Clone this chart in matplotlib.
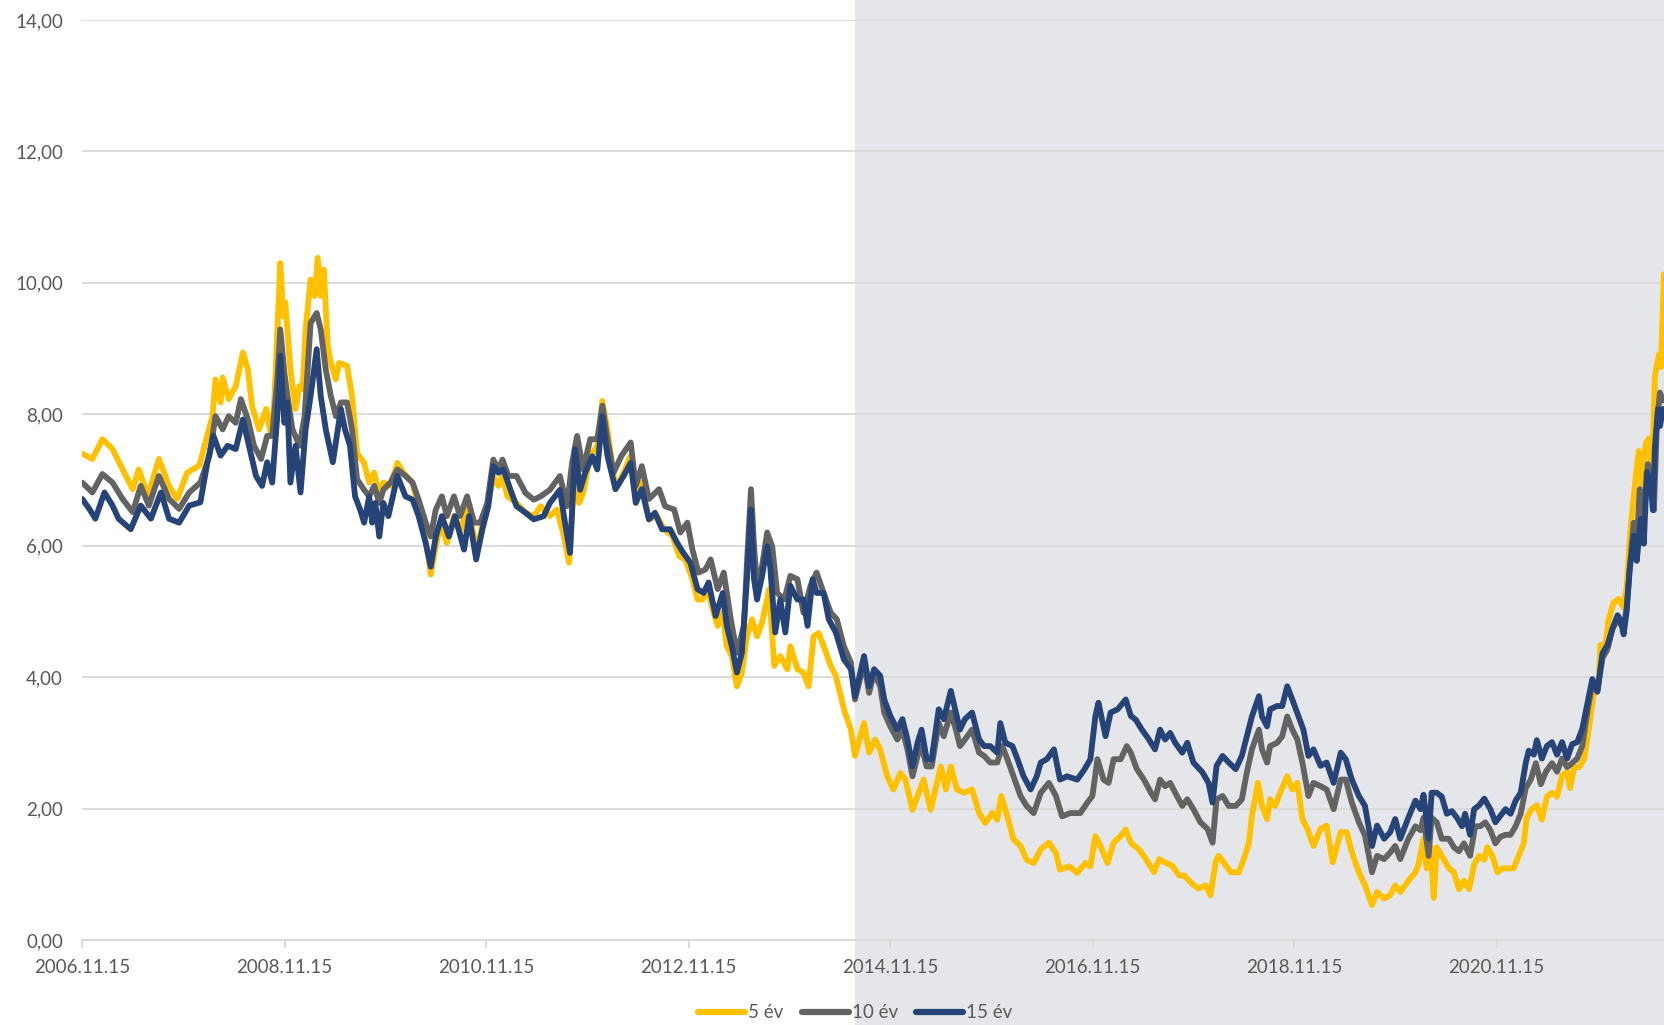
import pandas as pd
import matplotlib.pyplot as plt
import matplotlib.dates as mdates
import matplotlib.transforms as mtransforms
from matplotlib.patches import Rectangle
from matplotlib.lines import Line2D
from matplotlib.ticker import FuncFormatter

# --- DATA (decimal year, yield %) ---
yield_5y = [
    (2006.87, 7.40), (2006.97, 7.32), (2007.07, 7.62), (2007.17, 7.47), (2007.27, 7.16), (2007.37, 6.86),
    (2007.43, 7.16), (2007.52, 6.76), (2007.63, 7.32), (2007.73, 6.91), (2007.81, 6.71), (2007.91, 7.11),
    (2008.03, 7.22), (2008.09, 7.57), (2008.16, 7.97), (2008.19, 8.53), (2008.24, 8.18), (2008.26, 8.56),
    (2008.32, 8.23), (2008.39, 8.43), (2008.46, 8.94), (2008.51, 8.68), (2008.55, 8.13), (2008.62, 7.77),
    (2008.69, 8.08), (2008.74, 7.67), (2008.77, 8.18), (2008.80, 9.24), (2008.83, 10.30), (2008.86, 9.49),
    (2008.88, 9.70), (2008.93, 8.68), (2008.98, 8.08), (2009.02, 8.43), (2009.05, 8.38), (2009.08, 9.29),
    (2009.13, 10.05), (2009.17, 9.80), (2009.20, 10.38), (2009.23, 9.80), (2009.26, 10.20), (2009.30, 9.04),
    (2009.33, 8.78), (2009.38, 8.53), (2009.41, 8.78), (2009.49, 8.74), (2009.54, 8.28), (2009.59, 7.41),
    (2009.66, 7.26), (2009.71, 6.96), (2009.76, 7.11), (2009.81, 6.75), (2009.85, 6.96), (2009.92, 6.91),
    (2009.99, 7.26), (2010.05, 7.11), (2010.14, 6.96), (2010.20, 6.55), (2010.25, 6.24), (2010.30, 5.79),
    (2010.32, 5.56), (2010.37, 5.99), (2010.42, 6.35), (2010.48, 6.04), (2010.55, 6.45), (2010.61, 6.19),
    (2010.68, 6.60), (2010.75, 6.14), (2010.80, 6.04), (2010.84, 6.45), (2010.89, 6.65), (2010.94, 7.06),
    (2010.99, 6.91), (2011.03, 7.06), (2011.08, 6.75), (2011.17, 6.65), (2011.26, 6.50), (2011.34, 6.45),
    (2011.41, 6.60), (2011.50, 6.45), (2011.57, 6.55), (2011.64, 6.14), (2011.69, 5.74), (2011.74, 6.96),
    (2011.79, 6.65), (2011.83, 6.80), (2011.90, 7.36), (2011.97, 7.52), (2012.02, 8.20), (2012.07, 7.77),
    (2012.15, 6.86), (2012.23, 7.11), (2012.30, 7.37), (2012.35, 6.76), (2012.41, 6.96), (2012.48, 6.40),
    (2012.56, 6.45), (2012.63, 6.25), (2012.71, 6.15), (2012.78, 5.84), (2012.84, 5.79), (2012.91, 5.49),
    (2012.96, 5.18), (2013.01, 5.18), (2013.06, 5.34), (2013.11, 5.03), (2013.16, 4.78), (2013.21, 4.98),
    (2013.25, 4.47), (2013.30, 4.32), (2013.35, 3.86), (2013.40, 4.07), (2013.45, 4.62), (2013.50, 4.88),
    (2013.55, 4.62), (2013.60, 4.83), (2013.67, 5.34), (2013.72, 4.17), (2013.78, 4.32), (2013.85, 4.12),
    (2013.88, 4.47), (2013.95, 4.12), (2014.01, 4.07), (2014.06, 3.86), (2014.11, 4.62), (2014.16, 4.67),
    (2014.21, 4.47), (2014.28, 4.17), (2014.33, 4.02), (2014.38, 3.71), (2014.41, 3.51), (2014.48, 3.20),
    (2014.52, 2.80), (2014.61, 3.30), (2014.66, 2.85), (2014.72, 3.05), (2014.77, 2.90), (2014.84, 2.49),
    (2014.90, 2.29), (2014.97, 2.54), (2015.02, 2.44), (2015.09, 1.98), (2015.14, 2.19), (2015.20, 2.44),
    (2015.27, 1.98), (2015.37, 2.64), (2015.42, 2.29), (2015.47, 2.64), (2015.53, 2.29), (2015.60, 2.24),
    (2015.68, 2.29), (2015.75, 1.93), (2015.81, 1.78), (2015.88, 1.93), (2015.93, 1.83), (2015.97, 2.19),
    (2016.03, 1.88), (2016.09, 1.53), (2016.16, 1.43), (2016.22, 1.22), (2016.29, 1.17), (2016.36, 1.38),
    (2016.44, 1.48), (2016.51, 1.32), (2016.55, 1.07), (2016.64, 1.12), (2016.72, 1.02), (2016.80, 1.17),
    (2016.85, 1.12), (2016.90, 1.58), (2016.95, 1.43), (2017.02, 1.17), (2017.08, 1.48), (2017.15, 1.58),
    (2017.20, 1.68), (2017.25, 1.48), (2017.33, 1.38), (2017.40, 1.23), (2017.48, 1.03), (2017.53, 1.23),
    (2017.59, 1.18), (2017.66, 1.13), (2017.73, 0.98), (2017.78, 0.98), (2017.84, 0.88), (2017.92, 0.78),
    (2017.99, 0.83), (2018.04, 0.68), (2018.09, 1.18), (2018.12, 1.28), (2018.17, 1.18), (2018.24, 1.03),
    (2018.32, 1.03), (2018.37, 1.23), (2018.42, 1.48), (2018.45, 1.89), (2018.51, 2.39), (2018.55, 2.04),
    (2018.60, 1.84), (2018.63, 2.14), (2018.68, 2.04), (2018.73, 2.24), (2018.80, 2.49), (2018.85, 2.29),
    (2018.90, 2.39), (2018.95, 1.84), (2019.00, 1.69), (2019.06, 1.43), (2019.13, 1.69), (2019.19, 1.74),
    (2019.25, 1.18), (2019.33, 1.64), (2019.39, 1.64), (2019.44, 1.33), (2019.51, 1.03), (2019.57, 0.83),
    (2019.64, 0.53), (2019.69, 0.73), (2019.76, 0.63), (2019.82, 0.68), (2019.87, 0.83), (2019.92, 0.73),
    (2020.00, 0.90), (2020.07, 1.03), (2020.10, 1.15), (2020.15, 1.54), (2020.18, 1.09), (2020.22, 1.41),
    (2020.25, 0.64), (2020.28, 1.41), (2020.33, 1.28), (2020.40, 1.09), (2020.45, 1.03), (2020.50, 0.77),
    (2020.55, 0.90), (2020.60, 0.77), (2020.65, 1.15), (2020.70, 1.28), (2020.75, 1.22), (2020.78, 1.41),
    (2020.83, 1.28), (2020.88, 1.03), (2020.93, 1.09), (2020.99, 1.09), (2021.04, 1.09), (2021.09, 1.28),
    (2021.14, 1.47), (2021.17, 1.86), (2021.22, 1.99), (2021.27, 2.05), (2021.32, 1.83), (2021.37, 2.18),
    (2021.42, 2.24), (2021.47, 2.18), (2021.52, 2.50), (2021.57, 2.56), (2021.60, 2.31), (2021.64, 2.63),
    (2021.69, 2.63), (2021.74, 2.76), (2021.79, 3.27), (2021.83, 3.72), (2021.88, 3.85), (2021.90, 4.49),
    (2021.95, 4.49), (2021.98, 4.87), (2022.03, 5.13), (2022.08, 5.19), (2022.13, 5.06), (2022.16, 5.38),
    (2022.20, 6.28), (2022.25, 7.05), (2022.28, 7.44), (2022.31, 6.92), (2022.35, 7.56), (2022.38, 7.63),
    (2022.41, 7.05), (2022.44, 8.59), (2022.48, 8.91), (2022.50, 8.72), (2022.53, 10.13),
]

yield_10y = [
    (2006.87, 6.96), (2006.97, 6.81), (2007.07, 7.09), (2007.17, 6.96), (2007.27, 6.71), (2007.37, 6.51),
    (2007.45, 6.91), (2007.53, 6.61), (2007.63, 7.06), (2007.73, 6.71), (2007.83, 6.56), (2007.93, 6.81),
    (2008.04, 6.96), (2008.13, 7.37), (2008.19, 7.97), (2008.26, 7.77), (2008.32, 7.97), (2008.39, 7.87),
    (2008.44, 8.23), (2008.51, 7.92), (2008.57, 7.52), (2008.64, 7.32), (2008.70, 7.67), (2008.75, 7.67),
    (2008.80, 8.53), (2008.83, 9.29), (2008.87, 8.63), (2008.90, 8.28), (2008.95, 7.77), (2009.02, 7.52),
    (2009.07, 7.97), (2009.13, 9.39), (2009.19, 9.54), (2009.23, 9.29), (2009.28, 8.68), (2009.33, 8.28),
    (2009.38, 7.97), (2009.43, 8.18), (2009.49, 8.18), (2009.54, 7.77), (2009.59, 7.01), (2009.66, 6.85),
    (2009.71, 6.75), (2009.76, 6.91), (2009.81, 6.65), (2009.85, 6.85), (2009.92, 6.96), (2009.99, 7.16),
    (2010.07, 7.06), (2010.14, 6.96), (2010.20, 6.70), (2010.27, 6.35), (2010.32, 6.14), (2010.37, 6.55),
    (2010.43, 6.75), (2010.48, 6.45), (2010.55, 6.75), (2010.61, 6.45), (2010.68, 6.75), (2010.75, 6.35),
    (2010.81, 6.35), (2010.88, 6.65), (2010.94, 7.31), (2010.99, 7.16), (2011.03, 7.31), (2011.09, 7.06),
    (2011.17, 7.06), (2011.26, 6.80), (2011.34, 6.70), (2011.41, 6.75), (2011.50, 6.85), (2011.60, 7.06),
    (2011.67, 6.60), (2011.72, 7.26), (2011.77, 7.67), (2011.83, 7.16), (2011.90, 7.62), (2011.97, 7.62),
    (2012.02, 8.13), (2012.07, 7.62), (2012.13, 7.11), (2012.21, 7.37), (2012.30, 7.57), (2012.35, 6.91),
    (2012.41, 7.21), (2012.48, 6.71), (2012.58, 6.86), (2012.64, 6.60), (2012.73, 6.55), (2012.79, 6.20),
    (2012.86, 6.35), (2012.91, 5.94), (2012.97, 5.59), (2013.04, 5.64), (2013.09, 5.79), (2013.16, 5.34),
    (2013.22, 5.59), (2013.29, 4.88), (2013.35, 4.37), (2013.42, 4.78), (2013.45, 5.74), (2013.49, 6.86),
    (2013.52, 6.00), (2013.55, 5.39), (2013.60, 5.69), (2013.65, 6.20), (2013.70, 5.99), (2013.75, 5.28),
    (2013.82, 5.18), (2013.88, 5.54), (2013.95, 5.49), (2014.01, 4.98), (2014.08, 5.39), (2014.14, 5.59),
    (2014.21, 5.28), (2014.28, 4.98), (2014.34, 4.88), (2014.41, 4.47), (2014.48, 4.22), (2014.52, 3.66),
    (2014.61, 4.22), (2014.66, 3.76), (2014.71, 4.07), (2014.77, 3.86), (2014.81, 3.46), (2014.87, 3.25),
    (2014.94, 3.05), (2014.99, 3.20), (2015.04, 2.90), (2015.09, 2.49), (2015.14, 2.80), (2015.18, 2.95),
    (2015.23, 2.64), (2015.28, 2.64), (2015.35, 3.30), (2015.40, 3.10), (2015.47, 3.46), (2015.52, 3.20),
    (2015.56, 2.95), (2015.61, 3.05), (2015.68, 3.20), (2015.75, 2.85), (2015.80, 2.80), (2015.86, 2.70),
    (2015.93, 2.70), (2015.98, 2.95), (2016.03, 2.75), (2016.09, 2.49), (2016.16, 2.19), (2016.22, 2.04),
    (2016.29, 1.93), (2016.36, 2.24), (2016.44, 2.39), (2016.51, 2.19), (2016.57, 1.88), (2016.65, 1.93),
    (2016.75, 1.93), (2016.82, 2.09), (2016.87, 2.19), (2016.92, 2.75), (2016.98, 2.44), (2017.03, 2.39),
    (2017.08, 2.75), (2017.15, 2.75), (2017.21, 2.95), (2017.25, 2.85), (2017.31, 2.60), (2017.38, 2.44),
    (2017.45, 2.24), (2017.49, 2.14), (2017.54, 2.44), (2017.59, 2.34), (2017.64, 2.39), (2017.69, 2.24),
    (2017.76, 2.04), (2017.81, 2.14), (2017.87, 1.99), (2017.94, 1.79), (2018.01, 1.69), (2018.06, 1.48),
    (2018.10, 2.14), (2018.16, 2.19), (2018.22, 2.04), (2018.29, 2.04), (2018.35, 2.14), (2018.40, 2.55),
    (2018.45, 2.90), (2018.52, 3.20), (2018.55, 2.90), (2018.60, 2.70), (2018.63, 2.95), (2018.70, 3.00),
    (2018.75, 3.10), (2018.80, 3.40), (2018.85, 3.20), (2018.90, 3.05), (2018.95, 2.70), (2019.01, 2.19),
    (2019.06, 2.39), (2019.13, 2.34), (2019.19, 2.29), (2019.26, 1.99), (2019.33, 2.44), (2019.38, 2.44),
    (2019.44, 2.09), (2019.51, 1.79), (2019.57, 1.59), (2019.64, 1.03), (2019.69, 1.28), (2019.76, 1.23),
    (2019.82, 1.33), (2019.87, 1.43), (2019.92, 1.23), (2020.00, 1.54), (2020.07, 1.73), (2020.12, 1.67),
    (2020.15, 1.86), (2020.20, 1.28), (2020.23, 1.86), (2020.28, 1.79), (2020.33, 1.54), (2020.40, 1.54),
    (2020.45, 1.41), (2020.50, 1.35), (2020.55, 1.47), (2020.61, 1.28), (2020.66, 1.73), (2020.71, 1.73),
    (2020.76, 1.79), (2020.81, 1.67), (2020.86, 1.47), (2020.91, 1.57), (2020.96, 1.60), (2021.01, 1.60),
    (2021.06, 1.73), (2021.11, 1.92), (2021.16, 2.31), (2021.21, 2.44), (2021.26, 2.69), (2021.31, 2.37),
    (2021.36, 2.56), (2021.42, 2.69), (2021.47, 2.56), (2021.52, 2.76), (2021.57, 2.63), (2021.62, 2.69),
    (2021.67, 2.76), (2021.72, 2.95), (2021.77, 3.46), (2021.82, 3.91), (2021.87, 3.78), (2021.92, 4.29),
    (2021.97, 4.42), (2022.02, 4.74), (2022.07, 4.87), (2022.13, 4.74), (2022.16, 5.06), (2022.19, 5.64),
    (2022.23, 6.35), (2022.26, 6.03), (2022.29, 6.86), (2022.33, 6.41), (2022.37, 7.24), (2022.40, 6.92),
    (2022.43, 6.54), (2022.46, 7.88), (2022.49, 8.33), (2022.52, 8.21),
]

yield_15y = [
    (2006.87, 6.71), (2006.94, 6.56), (2007.00, 6.41), (2007.09, 6.81), (2007.17, 6.61), (2007.23, 6.41),
    (2007.35, 6.25), (2007.45, 6.61), (2007.55, 6.41), (2007.65, 6.81), (2007.73, 6.41), (2007.83, 6.35),
    (2007.93, 6.61), (2008.04, 6.66), (2008.11, 7.27), (2008.17, 7.67), (2008.24, 7.37), (2008.31, 7.52),
    (2008.39, 7.47), (2008.46, 7.92), (2008.52, 7.52), (2008.59, 7.06), (2008.65, 6.91), (2008.70, 7.27),
    (2008.75, 6.96), (2008.80, 7.97), (2008.83, 8.89), (2008.87, 7.87), (2008.90, 8.18), (2008.93, 6.96),
    (2008.98, 7.52), (2009.03, 6.81), (2009.08, 7.77), (2009.13, 8.28), (2009.19, 8.99), (2009.23, 8.28),
    (2009.28, 7.77), (2009.35, 7.27), (2009.40, 7.77), (2009.43, 8.08), (2009.47, 7.77), (2009.52, 7.52),
    (2009.57, 6.75), (2009.62, 6.55), (2009.66, 6.35), (2009.71, 6.75), (2009.74, 6.35), (2009.77, 6.65),
    (2009.81, 6.14), (2009.85, 6.65), (2009.90, 6.45), (2009.99, 7.06), (2010.07, 6.75), (2010.14, 6.70),
    (2010.20, 6.45), (2010.27, 6.04), (2010.32, 5.68), (2010.37, 6.14), (2010.43, 6.45), (2010.50, 6.14),
    (2010.56, 6.45), (2010.65, 5.94), (2010.70, 6.45), (2010.77, 5.79), (2010.83, 6.24), (2010.89, 6.60),
    (2010.94, 7.21), (2010.99, 7.11), (2011.04, 7.16), (2011.11, 6.85), (2011.17, 6.60), (2011.26, 6.50),
    (2011.34, 6.40), (2011.44, 6.45), (2011.50, 6.65), (2011.60, 6.85), (2011.65, 6.35), (2011.70, 5.89),
    (2011.75, 7.47), (2011.80, 6.85), (2011.85, 7.11), (2011.92, 7.36), (2011.97, 7.16), (2012.02, 7.97),
    (2012.07, 7.37), (2012.15, 6.86), (2012.23, 7.06), (2012.30, 7.26), (2012.35, 6.65), (2012.41, 6.86),
    (2012.48, 6.40), (2012.54, 6.50), (2012.61, 6.25), (2012.69, 6.25), (2012.76, 6.04), (2012.82, 5.89),
    (2012.89, 5.74), (2012.96, 5.34), (2013.02, 5.28), (2013.07, 5.44), (2013.14, 4.93), (2013.21, 5.28),
    (2013.25, 4.78), (2013.30, 4.47), (2013.35, 4.07), (2013.40, 4.37), (2013.45, 5.49), (2013.49, 6.55),
    (2013.52, 5.49), (2013.55, 5.18), (2013.60, 5.54), (2013.65, 5.99), (2013.68, 5.69), (2013.73, 4.68),
    (2013.78, 5.18), (2013.83, 4.68), (2013.88, 5.39), (2013.95, 5.18), (2014.01, 5.18), (2014.05, 4.78),
    (2014.10, 5.49), (2014.14, 5.28), (2014.21, 5.28), (2014.26, 4.88), (2014.33, 4.68), (2014.41, 4.27),
    (2014.48, 4.12), (2014.52, 3.71), (2014.61, 4.32), (2014.66, 3.86), (2014.71, 4.12), (2014.77, 4.02),
    (2014.81, 3.66), (2014.87, 3.41), (2014.94, 3.20), (2014.99, 3.36), (2015.04, 3.05), (2015.09, 2.64),
    (2015.14, 3.00), (2015.18, 3.20), (2015.23, 2.75), (2015.28, 2.75), (2015.35, 3.51), (2015.40, 3.36),
    (2015.47, 3.79), (2015.52, 3.46), (2015.56, 3.20), (2015.61, 3.36), (2015.68, 3.46), (2015.75, 3.05),
    (2015.80, 2.95), (2015.86, 2.95), (2015.93, 2.85), (2015.96, 3.30), (2016.01, 3.00), (2016.08, 2.95),
    (2016.13, 2.75), (2016.19, 2.49), (2016.26, 2.29), (2016.32, 2.49), (2016.36, 2.70), (2016.42, 2.75),
    (2016.49, 2.90), (2016.55, 2.44), (2016.62, 2.49), (2016.72, 2.44), (2016.79, 2.59), (2016.85, 2.75),
    (2016.90, 3.41), (2016.93, 3.61), (2017.00, 3.10), (2017.05, 3.46), (2017.12, 3.51), (2017.20, 3.66),
    (2017.25, 3.41), (2017.30, 3.35), (2017.36, 3.20), (2017.43, 3.05), (2017.49, 2.90), (2017.54, 3.20),
    (2017.59, 3.05), (2017.64, 3.15), (2017.69, 3.00), (2017.76, 2.85), (2017.81, 3.00), (2017.87, 2.70),
    (2017.96, 2.55), (2018.02, 2.39), (2018.06, 2.09), (2018.10, 2.65), (2018.16, 2.80), (2018.22, 2.70),
    (2018.29, 2.60), (2018.35, 2.80), (2018.40, 3.10), (2018.45, 3.40), (2018.52, 3.71), (2018.55, 3.40),
    (2018.60, 3.25), (2018.63, 3.51), (2018.70, 3.56), (2018.75, 3.56), (2018.80, 3.86), (2018.85, 3.66),
    (2018.90, 3.45), (2018.96, 3.20), (2019.01, 2.80), (2019.06, 2.90), (2019.13, 2.65), (2019.19, 2.70),
    (2019.26, 2.39), (2019.33, 2.85), (2019.38, 2.75), (2019.44, 2.44), (2019.51, 2.19), (2019.57, 2.04),
    (2019.64, 1.43), (2019.69, 1.74), (2019.76, 1.54), (2019.82, 1.64), (2019.87, 1.84), (2019.92, 1.54),
    (2020.00, 1.86), (2020.07, 2.12), (2020.12, 1.99), (2020.15, 2.21), (2020.20, 1.54), (2020.23, 2.24),
    (2020.28, 2.24), (2020.33, 2.18), (2020.38, 1.92), (2020.43, 1.96), (2020.48, 1.86), (2020.53, 1.73),
    (2020.56, 1.92), (2020.61, 1.60), (2020.65, 1.99), (2020.70, 2.05), (2020.75, 2.15), (2020.81, 1.99),
    (2020.86, 1.79), (2020.91, 1.89), (2020.96, 1.99), (2021.01, 1.92), (2021.06, 2.12), (2021.11, 2.24),
    (2021.16, 2.69), (2021.19, 2.88), (2021.24, 2.82), (2021.27, 3.04), (2021.32, 2.76), (2021.37, 2.95),
    (2021.42, 3.01), (2021.47, 2.82), (2021.52, 3.01), (2021.57, 2.76), (2021.62, 2.98), (2021.67, 3.01),
    (2021.72, 3.21), (2021.77, 3.59), (2021.82, 3.97), (2021.87, 3.78), (2021.92, 4.36), (2021.97, 4.49),
    (2022.02, 4.74), (2022.07, 4.94), (2022.10, 4.87), (2022.13, 4.65), (2022.16, 5.00), (2022.19, 5.64),
    (2022.23, 6.15), (2022.26, 5.77), (2022.30, 6.41), (2022.33, 6.03), (2022.36, 7.12), (2022.40, 6.92),
    (2022.42, 6.54), (2022.44, 7.50), (2022.47, 8.08), (2022.49, 7.82), (2022.52, 8.08),
]

series_names = ["5 év", "10 év", "15 év"]
series_colors = ["#FFC000", "#636363", "#264478"]

x_start = 2006.874      # 2006.11.15
x_end = 2022.53
shade_start = 2014.52
tick_years = [2006, 2008, 2010, 2012, 2014, 2016, 2018, 2020]
y_ticks = [0, 2, 4, 6, 8, 10, 12, 14]


def to_date(t):
    year = int(t)
    start = pd.Timestamp(year, 1, 1)
    end = pd.Timestamp(year + 1, 1, 1)
    return start + (end - start) * (t - year)


plt.rcParams['font.family'] = ['Lato', 'DejaVu Sans']
text_color = "#595959"
grid_color = "#D9D9D9"

fig = plt.figure(figsize=(16.64, 10.25), dpi=100)
ax = fig.add_axes([0.0495, 0.083, 0.9505, 0.8975])
ax.set_facecolor("none")

# grey background band, full figure height
trans = mtransforms.blended_transform_factory(ax.transData, fig.transFigure)
x0 = mdates.date2num(to_date(shade_start))
x1 = mdates.date2num(to_date(x_end + 0.2))
ax.add_patch(Rectangle((x0, 0), x1 - x0, 1, transform=trans, facecolor="#E4E6E9",
                       edgecolor="none", clip_on=False, zorder=0))

for data, name, color in zip([yield_5y, yield_10y, yield_15y], series_names, series_colors):
    dates = [to_date(t) for t, v in data]
    values = [v for t, v in data]
    ax.plot(dates, values, color=color, linewidth=4.2, solid_joinstyle="round",
            solid_capstyle="round", label=name, zorder=3)

ax.set_xlim(to_date(x_start), to_date(x_end))
ax.set_ylim(0, 14)
ax.set_yticks(y_ticks)
ax.yaxis.set_major_formatter(FuncFormatter(lambda v, p: f"{v:.2f}".replace(".", ",")))

tick_dates = [pd.Timestamp(y, 11, 15) for y in tick_years]
ax.set_xticks(tick_dates)
ax.set_xticklabels([d.strftime("%Y.%m.%d") for d in tick_dates])

ax.grid(axis="y", color=grid_color, linewidth=1.3)
ax.set_axisbelow(True)
for side in ["top", "right", "left"]:
    ax.spines[side].set_visible(False)
ax.spines["bottom"].set_color(grid_color)
ax.spines["bottom"].set_linewidth(1.5)
ax.spines["bottom"].set_zorder(1)

ax.tick_params(axis="x", colors=grid_color, labelcolor=text_color, labelsize=13.5,
               length=6, width=1.3, pad=8, direction="out")
ax.tick_params(axis="y", length=0, labelcolor=text_color, labelsize=13.5, pad=14)

handles = [Line2D([0], [0], color=c, linewidth=4.5, solid_capstyle="round") for c in series_colors]
leg = fig.legend(handles, series_names, loc="center", bbox_to_anchor=(0.514, 0.012),
                 ncol=3, frameon=False, fontsize=13.5, handlelength=2.5, handletextpad=0.15,
                 columnspacing=1.0, borderpad=0)
for txt in leg.get_texts():
    txt.set_color(text_color)

fig.savefig("out.png", dpi=100)
